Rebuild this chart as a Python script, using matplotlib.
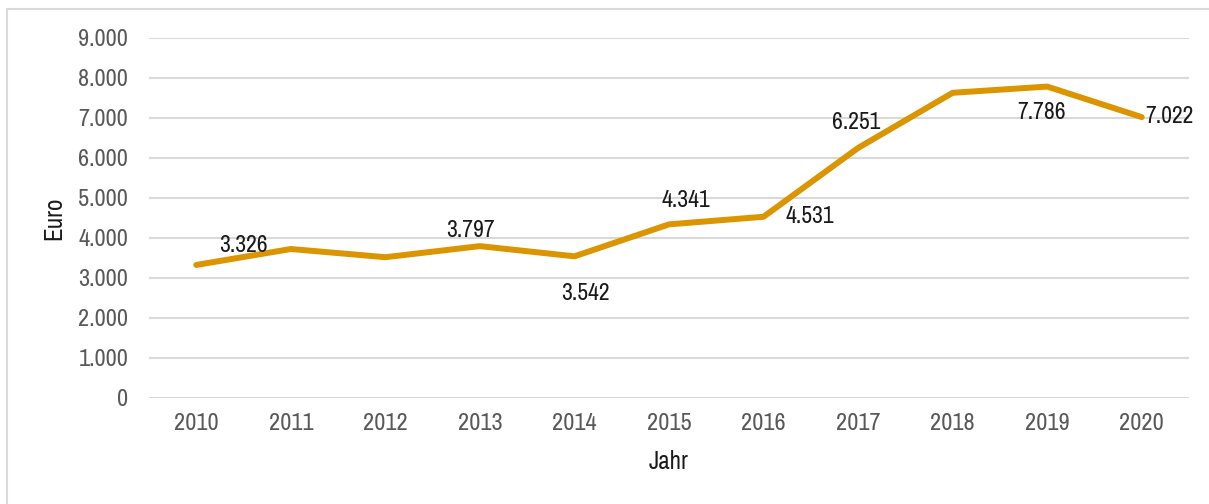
import matplotlib
matplotlib.use("Agg")
import matplotlib.pyplot as plt
from matplotlib import font_manager
from matplotlib.patches import Rectangle
from matplotlib.ticker import FuncFormatter

# pick a narrow face if one is installed (the original uses a condensed sans)
names = sorted({f.name for f in font_manager.fontManager.ttflist})
narrow = [n for n in names if "Narrow" in n or "Condensed" in n]
plt.rcParams['font.family'] = narrow[:1] + ['DejaVu Sans']
plt.rcParams['font.stretch'] = 'condensed'

years = ["2010", "2011", "2012", "2013", "2014", "2015", "2016", "2017", "2018", "2019", "2020"]
euro = [3326, 3725, 3520, 3797, 3542, 4341, 4531, 6251, 7630, 7786, 7022]
# which points carry a data label, and where (pixel offsets from the point)
label_pos = {0: (47, 19), 3: (-9, 16), 4: (11, -37), 5: (17, 24), 6: (46, 0),
             7: (-2, 25), 9: (-6, -26), 10: (28, 1)}

fig = plt.figure(figsize=(12.09, 5.04), dpi=100)
ax = fig.add_axes([149 / 1209, 106 / 504, 1040 / 1209, 360 / 504])

x = list(range(len(years)))
ax.plot(x, euro, color="#DA9500", linewidth=4.3, solid_joinstyle="round",
        solid_capstyle="round", zorder=3)

for i, (dx, dy) in label_pos.items():
    ax.annotate(f"{euro[i] / 1000:.3f}", (x[i], euro[i]),
                xytext=(dx * 0.72, dy * 0.72), textcoords="offset points",
                ha="center", va="center", fontsize=17, color="#1a1a1a", zorder=4)

ax.set_xlim(-0.5, len(years) - 0.5)
ax.set_ylim(0, 9000)
ax.set_yticks(range(0, 9001, 1000))
ax.yaxis.set_major_formatter(FuncFormatter(lambda v, p: "0" if v == 0 else f"{v / 1000:.3f}"))
ax.set_xticks(x)
ax.set_xticklabels(years)
ax.tick_params(axis="both", length=0, labelsize=17.5, colors="#595959")
ax.tick_params(axis="y", pad=15)
ax.tick_params(axis="x", pad=11)

ax.grid(axis="y", color="#D9D9D9", linewidth=1.5)
ax.set_axisbelow(True)
for s in ax.spines.values():
    s.set_visible(False)

ax.set_ylabel("Euro", fontsize=18, color="#1a1a1a", labelpad=9)
ax.set_xlabel("Jahr", fontsize=18, color="#1a1a1a", labelpad=11)

fig.patches.append(Rectangle((7 / 1209, -0.05), 1.1, (504 - 9) / 504 + 0.05,
                             transform=fig.transFigure, fill=False,
                             edgecolor="#D9D9D9", linewidth=1.5))

fig.savefig("out.png", dpi=100)
